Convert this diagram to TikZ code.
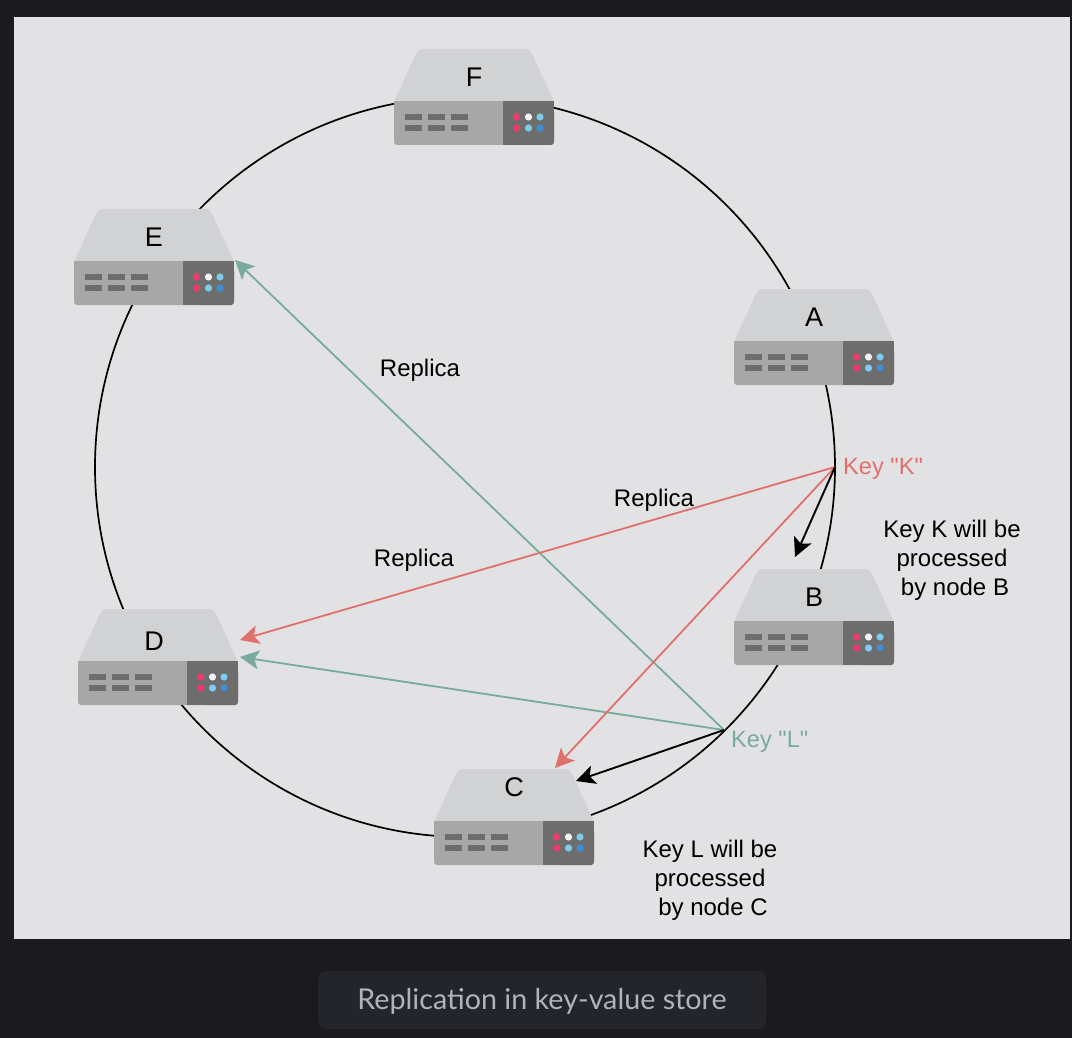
\documentclass[tikz,border=0pt]{standalone}
\usepackage{fontspec}
\setmainfont{Liberation Sans}
\newfontfamily\quotefont{Liberation Sans}
\newfontfamily\capfont{Lato}
\usetikzlibrary{arrows.meta}
\definecolor{pagebg}{HTML}{1B1B1D}
\definecolor{panelbg}{HTML}{E2E2E4}
\definecolor{pillbg}{HTML}{23252A}
\definecolor{captxt}{HTML}{B0B3B8}
\definecolor{keyred}{HTML}{E0706A}
\definecolor{keygreen}{HTML}{78AB9C}
\definecolor{srvtop}{HTML}{D1D2D4}
\definecolor{srvfront}{HTML}{A7A7A7}
\definecolor{srvdark}{HTML}{6D6D6D}
\definecolor{dotpink}{HTML}{EE3B6B}
\definecolor{dotwhite}{HTML}{F2F2F2}
\definecolor{dotlight}{HTML}{7CCBEE}
\definecolor{dotblue}{HTML}{3E8FD6}
\tikzset{
  px/.style={x=1pt,y=-1pt},
  ringline/.style={line width=1.7pt,black},
  bighead/.style={-{Stealth[length=19pt,width=19pt,inset=4.5pt]}},
  arrowk/.style={line width=1.9pt,black,bighead},
  arrowred/.style={line width=1.8pt,keyred,bighead},
  arrowgreen/.style={line width=1.8pt,keygreen,bighead},
  txt/.style={font=\fontsize{24pt}{29pt}\selectfont,align=center,inner sep=0pt,text=black},
  keytxt/.style={font=\quotefont\fontsize{23.6pt}{29pt}\selectfont,anchor=west,inner sep=0pt},
  srvlabel/.style={font=\fontsize{27pt}{30pt}\selectfont,inner sep=0pt,text=black},
  slot/.style={fill=srvdark},
  srvdot/.style={radius=3.6pt},
}
% x, y, node name, label, label x, label y
\newcommand{\srv}[6]{%
 \begin{scope}[shift={(#1,#2)}]
  \fill[srvtop] (0,53) -- (21,7) .. controls (25,0) .. (30,0) -- (130,0) .. controls (135,0) .. (139,7) -- (160,53) -- cycle;
  \fill[srvfront,rounded corners=3pt] (0,60) rectangle (160,96);
  \fill[srvfront] (0,52) rectangle (160,70);
  \fill[srvdark,rounded corners=3pt] (125,60) rectangle (160,96);
  \fill[srvdark] (109,52) rectangle (160,70);
  \fill[srvdark] (109,70) rectangle (150,96);
  \foreach \sx in {10.5,34,57}{
    \fill[slot] (\sx,65) rectangle ++(17,6);
    \fill[slot] (\sx,76) rectangle ++(17,6);
  }
  \fill[dotpink]  (122.7,68) circle[srvdot];
  \fill[dotwhite] (134.5,68) circle[srvdot];
  \fill[dotlight] (146,68) circle[srvdot];
  \fill[dotpink]  (122.7,79) circle[srvdot];
  \fill[dotlight] (134.5,79) circle[srvdot];
  \fill[dotblue]  (146,79) circle[srvdot];
  \node[srvlabel] (#3) at (#5,#6) {#4};
 \end{scope}}
\begin{document}
\begin{tikzpicture}[px]
\useasboundingbox (0,0) rectangle (1072,1038);
\fill[pagebg] (0,0) rectangle (1072,1038);
\fill[panelbg] (14,17) rectangle (1070,939);
\fill[pillbg,rounded corners=8pt] (318,971) rectangle (766,1029);
\node[font=\capfont\fontsize{28.7pt}{30pt}\selectfont,text=captxt,inner sep=0pt] (caption) at (542,1001) {Replication in key-value store};
\coordinate (ringc) at (465,467);
\draw[ringline] (ringc) circle[radius=370pt];
\srv{394}{49}{F}{F}{80}{28}
\srv{74}{209}{E}{E}{80}{28}
\srv{734}{289}{A}{A}{80}{28}
\srv{734}{569}{B}{B}{80}{28}
\srv{78}{609}{D}{D}{76}{32}
\srv{434}{769}{C}{C}{80}{18.5}
\coordinate (keyK) at (835,467);
\coordinate (keyL) at (724,730);
\coordinate (toB) at (795,557);
\coordinate (toCk) at (555,768);
\coordinate (toDk) at (240,640);
\coordinate (toCl) at (576,781);
\coordinate (toDl) at (240,657);
\coordinate (toE) at (235,260);
\draw[arrowgreen] (keyL) -- (toE);
\draw[arrowgreen] (keyL) -- (toDl);
\draw[arrowred] (keyK) -- (toDk);
\draw[arrowred] (keyK) -- (toCk);
\draw[arrowk] (keyK) -- (toB);
\draw[arrowk] (keyL) -- (toCl);
\node[keytxt,text=keyred] (lblK) at (843,469) {Key "K"};
\node[keytxt,text=keygreen] (lblL) at (731,742) {Key "L"};
\node[txt] (rep1) at (420,370) {Replica};
\node[txt] (rep2) at (654,500) {Replica};
\node[txt] (rep3) at (414,560) {Replica};
\node[txt] (noteK) at (952,560) {Key K will be\\processed\\\hspace*{6pt}by node B};
\node[txt] (noteL) at (710,880) {Key L will be\\processed\\\hspace*{6pt}by node C};
\end{tikzpicture}
\end{document}
